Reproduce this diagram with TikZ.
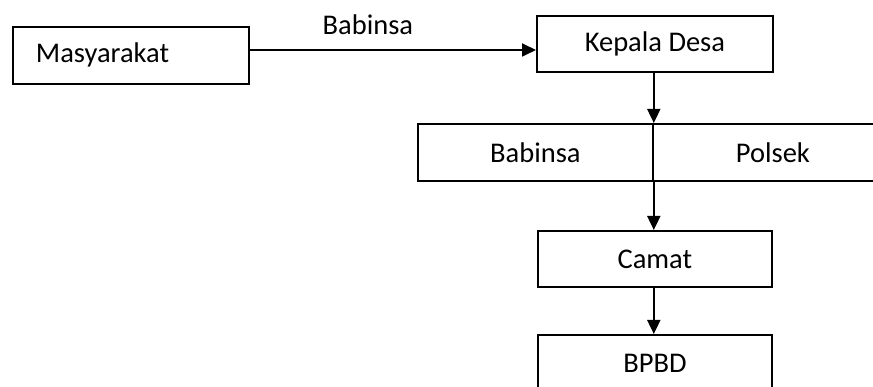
\documentclass[tikz,border=0pt]{standalone}
\usepackage{fontspec}
\setmainfont{Carlito}
\usetikzlibrary{arrows.meta}
\begin{document}
\begin{tikzpicture}[x=1pt,y=1pt,
  every node/.style={font=\fontsize{28.5}{34}\selectfont},
  box/.style={draw=black, line width=1.8pt, rectangle, inner sep=0pt, anchor=north west},
  conn/.style={line width=1.8pt, -{Triangle[width=13pt,length=14pt]}}]
\useasboundingbox (0,0) rectangle (873,-387);
\clip (0,0) rectangle (873,-387);
\node[box, minimum width=236, minimum height=57, text width=236, align=left] (mas) at (12,-26)
  {\hspace*{23pt}Masyarakat};
\node[box, minimum width=236, minimum height=56] (kd) at (536,-15) {Kepala Desa};
\node[box, minimum width=235, minimum height=57] (bab) at (417,-123) {Babinsa};
\node[box, minimum width=240, minimum height=57] (pol) at (652,-123) {Polsek};
\node[box, minimum width=234, minimum height=56] (cam) at (537,-230) {Camat};
\node[box, minimum width=234, minimum height=56] (bpbd) at (537,-334) {BPBD};
\coordinate (ar) at (0,-50);
\draw[conn] (mas.east |- ar) -- node[above=11pt, xshift=-25pt] (lbl) {Babinsa} (kd.west |- ar);
\draw[conn] (kd.south -| bab.east) -- (bab.north east);
\draw[conn] (bab.south east) -- (cam.north -| bab.east);
\draw[conn] (cam.south -| bab.east) -- (bpbd.north -| bab.east);
\end{tikzpicture}
\end{document}
